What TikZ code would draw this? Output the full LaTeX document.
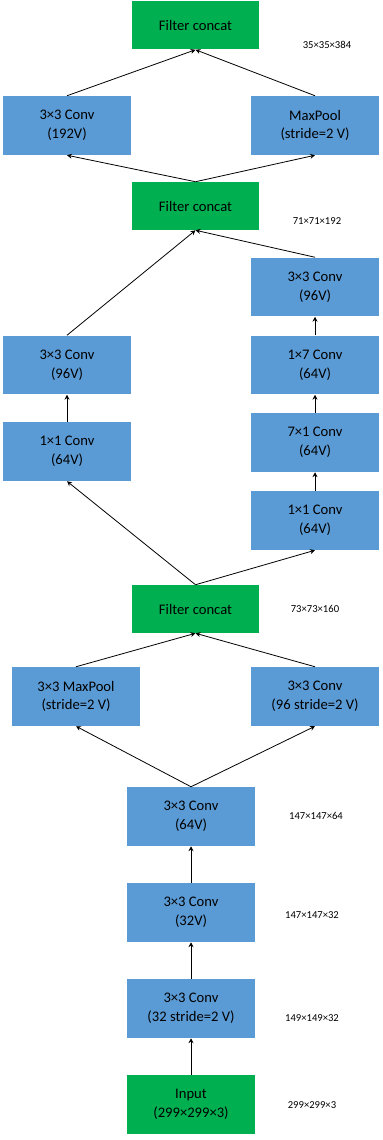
\documentclass[tikz,border=0pt]{standalone}
\usepackage{fontspec}
\setmainfont{Carlito}
\usetikzlibrary{arrows.meta}
\definecolor{convblue}{HTML}{5B9BD5}
\definecolor{catgreen}{HTML}{00B050}
\tikzset{conv/.style={fill=convblue,align=center,font=\fontsize{11}{14}\selectfont,minimum width=3.39cm,minimum height=1.56cm,inner sep=0pt}, concat/.style={fill=catgreen,align=center,font=\fontsize{11}{14}\selectfont,minimum width=3.36cm,minimum height=1.27cm,inner sep=0pt},dim/.style={font=\fontsize{8}{10}\selectfont},arr/.style={-{Stealth[length=1.3mm,width=1.3mm]},line width=0.6pt}}
\begin{document}
\begin{tikzpicture}[x=0.02646cm,y=-0.02646cm]
\useasboundingbox (0,0) rectangle (383,1140);
% top block
\node[concat] (fc1) at (195.5,25.5){Filter concat};\node[dim] (d1) at (327,45){35×35×384};
\node[conv] (ca) at (67,125.5){3×3 Conv\\(192V)};\node[conv] (mp) at (315,125.5){MaxPool\\(stride=2 V)};
\node[concat] (fc2) at (195.5,206){Filter concat};\node[dim] (d2) at (317,221){71×71×192};
% middle block
\node[conv] (r4) at (315,287){3×3 Conv\\(96V)};\node[conv] (r3) at (315,365){1×7 Conv\\(64V)};
\node[conv] (r2) at (315,442.5){7×1 Conv\\(64V)};\node[conv] (r1) at (315,520.5){1×1 Conv\\(64V)};
\node[conv] (l2) at (67,365){3×3 Conv\\(96V)};\node[conv] (l1) at (67,451.5){1×1 Conv\\(64V)};
\node[concat] (fc3) at (195.5,609){Filter concat};\node[dim] (d3) at (315,609){73×73×160};
% stem
\node[conv] (mp2) at (76,696.5){3×3 MaxPool\\(stride=2 V)};\node[conv] (cb) at (315,696.5){3×3 Conv\\(96 stride=2 V)};
\node[conv] (c3) at (191,816.5){3×3 Conv\\(64V)};\node[dim] (d4) at (316,816){147×147×64};
\node[conv] (c2) at (191,912.5){3×3 Conv\\(32V)};\node[dim] (d5) at (312,915){147×147×32};
\node[conv] (c1) at (191,1008.5){3×3 Conv\\(32 stride=2 V)};\node[dim] (d6) at (312,1018){149×149×32};
\node[conv,fill=catgreen] (inp) at (191,1104.5){Input\\(299×299×3)};\node[dim] (d7) at (312,1105){299×299×3};
\draw[arr](inp.north)--(c1.south);\draw[arr](c1.north)--(c2.south);\draw[arr](c2.north)--(c3.south);
\draw[arr](c3.north)--(mp2.south);\draw[arr](c3.north)--(cb.south);\draw[arr](mp2.north)--(fc3.south);\draw[arr](cb.north)--(fc3.south);
\draw[arr](fc3.north)--(l1.south);\draw[arr](fc3.north)--(r1.south);\draw[arr](l1)--(l2);
\draw[arr](r1)--(r2);\draw[arr](r2)--(r3);\draw[arr](r3)--(r4);\draw[arr](l2.north)--(fc2.south);\draw[arr](r4.north)--(fc2.south);
\draw[arr](fc2.north)--(ca.south);\draw[arr](fc2.north)--(mp.south);\draw[arr](ca.north)--(fc1.south);\draw[arr](mp.north)--(fc1.south);
\end{tikzpicture}
\end{document}
